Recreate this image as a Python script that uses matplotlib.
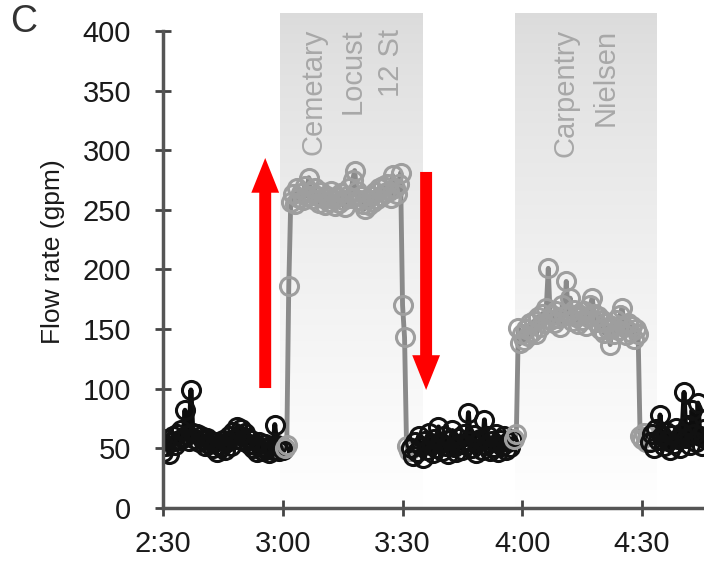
import numpy as np
import matplotlib
matplotlib.use("Agg")
import matplotlib.pyplot as plt

plt.rcParams['font.family'] = ['Liberation Sans', 'DejaVu Sans']

# sample step (minutes) and segment start times (minutes after 0:00)
step = 0.5

# baseline before first test (black)
a_start = 150.0
a_vals = [47, 52, 58, 45, 55, 60, 53, 62, 57, 65, 59, 82, 61, 56, 99, 63, 58, 62, 55, 60,
          57, 52, 59, 54, 56, 50, 55, 47, 53, 51, 57, 49, 55, 60, 52, 64, 58, 68, 61, 66,
          56, 63, 59, 54, 57, 50, 53, 47, 55, 51, 48, 54, 50, 46, 52, 49, 70, 53, 48, 51, 49]

# Cemetary / Locust / 12 St period (gray)
b_start = 180.5
b_vals = [50, 53, 186, 257, 263, 255, 268, 260, 264, 258, 270, 262, 277, 265, 259, 268, 262,
          256, 265, 260, 254, 262, 257, 266, 259, 253, 261, 256, 264, 258, 252, 262, 268, 260,
          275, 283, 266, 258, 262, 255, 251, 259, 254, 262, 257, 265, 259, 268, 262, 270, 264,
          272, 266, 260, 279, 268, 263, 272, 281, 170, 143, 52, 48]

# baseline between tests (black)
c_start = 212.0
c_vals = [50, 44, 55, 47, 60, 52, 42, 56, 49, 63, 53, 46, 58, 50, 68, 55, 48, 60, 52, 45,
          57, 65, 51, 47, 59, 54, 49, 62, 53, 80, 56, 50, 61, 46, 55, 58, 49, 74, 53, 60,
          48, 56, 51, 62, 47, 57, 52, 60, 49, 55, 51, 58]

# Carpentry / Nielsen period (gray)
d_start = 238.0
d_vals = [58, 62, 151, 138, 146, 141, 150, 144, 155, 148, 157, 146, 160, 152, 163, 155, 168,
          201, 158, 162, 155, 165, 159, 152, 170, 161, 190, 163, 176, 157, 166, 160, 154, 162,
          158, 165, 153, 160, 170, 176, 163, 156, 161, 150, 158, 147, 155, 150, 137, 153, 146,
          158, 149, 162, 168, 152, 145, 155, 148, 153, 142, 150, 146, 60, 58, 63, 55, 60]

# baseline after tests (black)
e_start = 272.0
e_vals = [55, 62, 50, 66, 57, 78, 60, 52, 64, 56, 49, 61, 54, 67, 58, 50, 63, 97, 59, 70,
          53, 82, 62, 55, 88, 60, 52, 66]

segments = [(a_start, a_vals, 'k'), (b_start, b_vals, 'g'), (c_start, c_vals, 'k'),
            (d_start, d_vals, 'g'), (e_start, e_vals, 'k')]

tick_pos = [150, 180, 210, 240, 270]
tick_labels = ['2:30', '3:00', '3:30', '4:00', '4:30']

shade_spans = [(179.3, 214.9), (238.2, 273.6)]
shade_labels = [(187.6, 'Cemetary'), (197.4, 'Locust'), (207.1, '12 St'),
                (250.8, 'Carpentry'), (260.8, 'Nielsen')]

fig = plt.figure(figsize=(7.04, 5.63), dpi=100)
ax = fig.add_axes([163 / 704, 1 - 508 / 563, 1 - 163 / 704, (508 - 31) / 563])

# shaded periods with a vertical gradient (light gray at top, white at bottom)
grad = 0.86 + 0.14 * np.linspace(0, 1, 256) ** 0.8
grad_img = np.repeat(grad[:, None, None], 3, axis=2)
for x0, x1 in shade_spans:
    im = ax.imshow(grad_img, extent=[x0, x1, 0, 415], origin='upper', aspect='auto',
                   zorder=0, interpolation='bicubic')
    im.set_clip_on(False)

for x, s in shade_labels:
    ax.text(x, 402, s, rotation=90, ha='center', va='top', fontsize=21,
            color='#a8a8a8', zorder=1, clip_on=False)

colors = {'k': ('#0d0d0d', '#111111'), 'g': ('#8a8a8a', '#9e9e9e')}
prev = None
for start, vals, c in segments:
    t = start + step * np.arange(len(vals))
    line_c, mark_c = colors[c]
    lt, lv = list(t), list(vals)
    if prev is not None:
        lt = [prev[0]] + lt
        lv = [prev[1]] + lv
    ax.plot(lt, lv, color=line_c, lw=3.5, zorder=2)
    ax.plot(t, vals, 'o', ms=13, mfc='none', mec=mark_c, mew=2.2, zorder=3)
    prev = (t[-1], vals[-1])

# red arrows
arrow_kw = dict(arrowstyle='simple,head_length=1.25,head_width=1.0,tail_width=0.43',
                color='red', lw=0, shrinkA=0, shrinkB=0, mutation_scale=20)
ax.annotate('', xy=(175.6, 293.5), xytext=(175.6, 100.6), arrowprops=arrow_kw, zorder=4)
ax.annotate('', xy=(215.9, 99), xytext=(215.9, 281.8), arrowprops=arrow_kw, zorder=4)

ax.set_xlim(150, 285.5)
ax.set_ylim(0, 400)
ax.set_xticks(tick_pos)
ax.set_xticklabels(tick_labels)
ax.set_yticks(range(0, 401, 50))
for s in ['top', 'right']:
    ax.spines[s].set_visible(False)
for s in ['left', 'bottom']:
    ax.spines[s].set_color('#555555')
    ax.spines[s].set_linewidth(2.5)
    ax.spines[s].set_zorder(5)
ax.tick_params(axis='both', direction='inout', length=12, width=2, color='#444444',
               labelsize=21, labelcolor='#1a1a1a')
ax.tick_params(axis='y', pad=17)
ax.tick_params(axis='x', pad=10)
ax.set_facecolor('none')

fig.text(53 / 704, 1 - 252 / 563, 'Flow rate (gpm)', rotation=90, ha='center',
         va='center', fontsize=19, color='#1a1a1a')
fig.text(10 / 704, 1 - 4 / 563, 'C', ha='left', va='top', fontsize=27, color='#333333')

plt.savefig('out.png', dpi=100)
plt.close()
